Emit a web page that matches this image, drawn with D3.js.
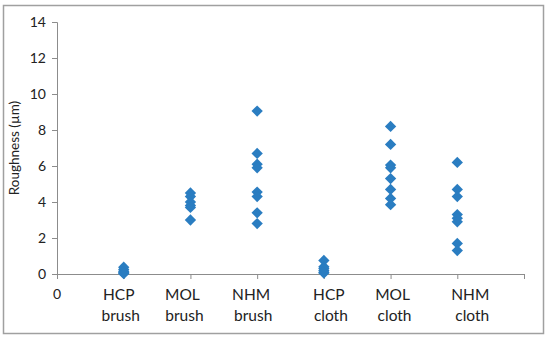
<!DOCTYPE html>
<html><head><meta charset="utf-8">
<script src="https://cdn.jsdelivr.net/npm/d3@7"></script>
<style>body{margin:0;background:#fff}</style>
</head><body>
<svg id="c" width="550" height="341"></svg>
<script>
const categories = ["HCP brush","MOL brush","NHM brush","HCP cloth","MOL cloth","NHM cloth"];
const hcpBrush = [0.38, 0.25, 0.15, 0.1, 0.05, 0.02];
const molBrush = [4.5, 4.3, 4.0, 3.8, 3.7, 3.0];
const nhmBrush = [9.05, 6.7, 6.1, 5.9, 4.55, 4.3, 3.4, 2.8];
const hcpCloth = [0.75, 0.4, 0.3, 0.2, 0.1, 0.05];
const molCloth = [8.2, 7.2, 6.05, 5.9, 5.3, 4.7, 4.2, 3.85];
const nhmCloth = [6.2, 4.7, 4.3, 3.3, 3.1, 2.9, 1.7, 1.3];
const yTicks = [0, 2, 4, 6, 8, 10, 12, 14];
const series = [hcpBrush, molBrush, nhmBrush, hcpCloth, molCloth, nhmCloth];
const labelDx = [-5, -8, -6, 5, 2, 13];

const svg = d3.select("#c");
const font = "Lato, 'Open Sans', sans-serif";
svg.append("rect").attr("x",3.5).attr("y",5.5).attr("width",540).attr("height",328)
  .attr("fill","#fff").attr("stroke","#a0a0a0").attr("stroke-width",1.5);

const x = d3.scaleLinear().domain([0,7]).range([57,524]);
const y = d3.scaleLinear().domain([0,14]).range([274,22]);

const axisColor = "#8c8c8c";
const yAxis = svg.append("g").attr("transform","translate(57,0)")
  .call(d3.axisLeft(y).tickValues(yTicks).tickSize(5).tickPadding(6));
yAxis.select(".domain").attr("stroke",axisColor);
yAxis.selectAll(".tick line").attr("stroke",axisColor);
yAxis.selectAll("text").attr("font-family",font).attr("font-size",14).attr("fill","#222");

const xAxis = svg.append("g").attr("transform","translate(0,274)")
  .call(d3.axisBottom(x).tickValues(d3.range(0,8)).tickSize(5).tickSizeOuter(0).tickFormat(""));
xAxis.select(".domain").attr("stroke",axisColor);
xAxis.selectAll(".tick line").attr("stroke",axisColor);

svg.append("text").attr("x",x(0)).attr("y",299).attr("text-anchor","middle")
  .attr("font-family",font).attr("font-size",14).attr("fill","#222").text("0");

categories.forEach((c,i)=>{
  const parts = c.split(" ");
  const t = svg.append("text").attr("text-anchor","middle")
    .attr("font-family",font).attr("font-size",15.5).attr("fill","#222");
  t.append("tspan").attr("x",x(i+1)+labelDx[i]).attr("y",300).text(parts[0]);
  t.append("tspan").attr("x",x(i+1)+labelDx[i]+2).attr("y",321).text(parts[1]);
});

svg.append("text").attr("transform","translate(19,148) rotate(-90)")
  .attr("text-anchor","middle").attr("font-family",font).attr("font-size",13.5)
  .attr("fill","#222").text("Roughness (µm)");

series.forEach((vals,i)=>{
  svg.append("g").selectAll("path").data(vals).join("path")
    .attr("d", d3.symbol().type(d3.symbolSquare).size(64))
    .attr("transform", d=>`translate(${x(i+1)},${y(d)}) rotate(45)`)
    .attr("fill","#2a7dc1");
});
</script>
</body></html>
